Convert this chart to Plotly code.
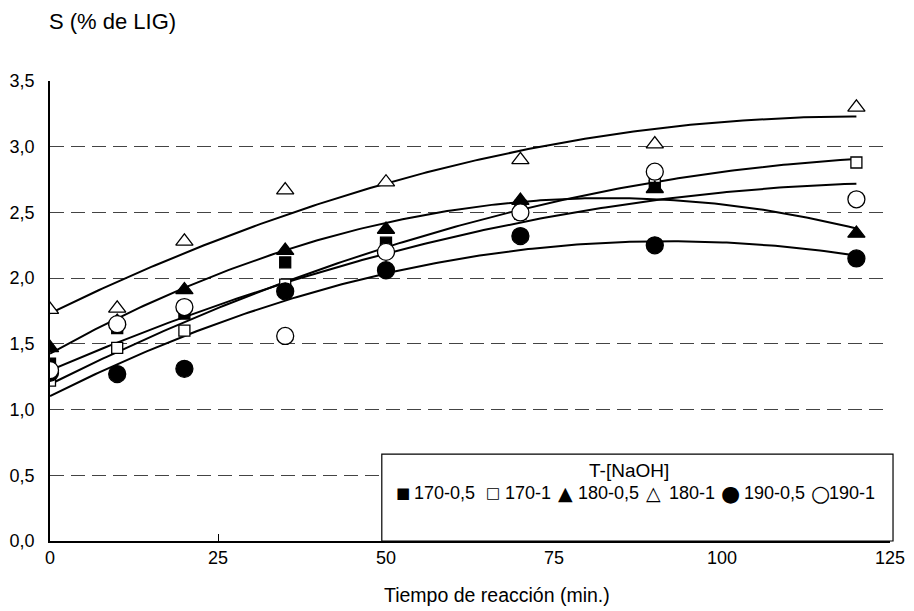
import numpy as np
import plotly.graph_objects as go

t = [0, 10, 20, 35, 50, 70, 90, 120]
names = ["170-0,5", "170-1", "180-0,5", "180-1", "190-0,5", "190-1"]
s_170_05 = [1.35, 1.62, 1.73, 2.12, 2.27, 2.49, 2.70, None]
s_170_1 = [1.22, 1.47, 1.60, 1.95, 2.22, 2.55, 2.77, 2.88]
s_180_05 = [1.47, 1.67, 1.91, 2.21, 2.37, 2.59, 2.68, 2.34]
s_180_1 = [1.76, 1.77, 2.28, 2.67, 2.73, 2.90, 3.02, 3.30]
s_190_05 = [1.28, 1.27, 1.31, 1.90, 2.06, 2.32, 2.25, 2.15]
s_190_1 = [1.30, 1.65, 1.78, 1.56, 2.20, 2.50, 2.81, 2.60]
series = [s_170_05, s_170_1, s_180_05, s_180_1, s_190_05, s_190_1]
with_trend = [False, True, True, True, True, True]
legend_title = "T-[NaOH]"
x_ticks = [0, 25, 50, 75, 100, 125]
y_ticks = [0, 0.5, 1, 1.5, 2, 2.5, 3, 3.5]

symbols = ["square", "square", "triangle-up", "triangle-up", "circle", "circle"]
fills = ["black", "white", "black", "white", "black", "white"]
sizes = [11, 11, 15, 15, 17, 17]
glyphs = ["\u25A0", "\u25A1", "\u25B2", "\u25B3", "\u25CF", "\u25CB"]
glyph_sizes = [15, 15, 19, 19, 22, 22]

fig = go.Figure()

# trend lines: 2nd-order polynomial fitted to each series
for vals, tr in zip(series, with_trend):
    if not tr:
        continue
    xs = np.array([a for a, b in zip(t, vals) if b is not None], float)
    ys = np.array([b for b in vals if b is not None], float)
    c = np.polyfit(xs, ys, 2)
    xx = np.linspace(xs.min(), xs.max(), 200)
    fig.add_trace(go.Scatter(x=xx, y=np.polyval(c, xx), mode="lines",
                             line=dict(color="black", width=2),
                             showlegend=False, hoverinfo="skip"))

for name, vals, sym, fc, sz in zip(names, series, symbols, fills, sizes):
    fig.add_trace(go.Scatter(x=t, y=vals, mode="markers", name=name,
                             showlegend=False,
                             marker=dict(symbol=sym, color=fc, size=sz,
                                         line=dict(color="black", width=1.3))))

font = "Liberation Sans, Arial, sans-serif"

# hand-built legend inside a framed box (paper coordinates)
leg_sym_x = [0.420, 0.527, 0.614, 0.719, 0.810, 0.917]
leg_txt_x = [0.431, 0.539, 0.626, 0.735, 0.824, 0.925]
leg_row_y = 0.104
annotations = [
    dict(text="S (% de LIG)", xref="paper", yref="paper", x=-0.004, y=1.13,
         xanchor="left", yanchor="middle", showarrow=False, font=dict(size=22)),
    dict(text="Tiempo de reacción (min.)", xref="paper", yref="paper",
         x=0.532, y=-0.117, xanchor="center", yanchor="middle", showarrow=False,
         font=dict(size=19.5)),
    dict(text=legend_title, xref="paper", yref="paper", x=0.689, y=0.154,
         xanchor="center", yanchor="middle", showarrow=False, font=dict(size=19)),
]
for g, gs, sx, tx, nm in zip(glyphs, glyph_sizes, leg_sym_x, leg_txt_x, names):
    annotations.append(dict(text=g, xref="paper", yref="paper", x=sx, y=leg_row_y,
                            xanchor="center", yanchor="middle", showarrow=False,
                            font=dict(size=gs, family="DejaVu Sans")))
    annotations.append(dict(text=nm, xref="paper", yref="paper", x=tx, y=leg_row_y,
                            xanchor="left", yanchor="middle", showarrow=False,
                            font=dict(size=18)))

fig.update_layout(
    width=906, height=603,
    margin=dict(l=42, r=24, t=73, b=70),
    paper_bgcolor="white", plot_bgcolor="white",
    separators=",.",
    showlegend=False,
    font=dict(family=font, color="black", size=18),
    xaxis=dict(range=[0, 125], tickvals=x_ticks, automargin=False,
               showgrid=False, zeroline=False, showline=True,
               linecolor="black", linewidth=1.5,
               ticks="inside", ticklen=7, tickcolor="black",
               tickfont=dict(size=18), ticklabelstandoff=0),
    yaxis=dict(range=[0, 3.5], tickvals=y_ticks, tickformat=".1f", automargin=False,
               showgrid=True, gridcolor="#444", gridwidth=1, griddash="14px,7px",
               zeroline=False, showline=True, linecolor="black", linewidth=1.5,
               ticks="", tickfont=dict(size=18), ticklabelstandoff=10),
    shapes=[dict(type="rect", xref="paper", yref="paper",
                 x0=0.395, x1=1.0036, y0=0, y1=0.189,
                 line=dict(color="black", width=1.2), fillcolor="white", layer="above")],
    annotations=annotations,
)

fig.write_html("out.html")
